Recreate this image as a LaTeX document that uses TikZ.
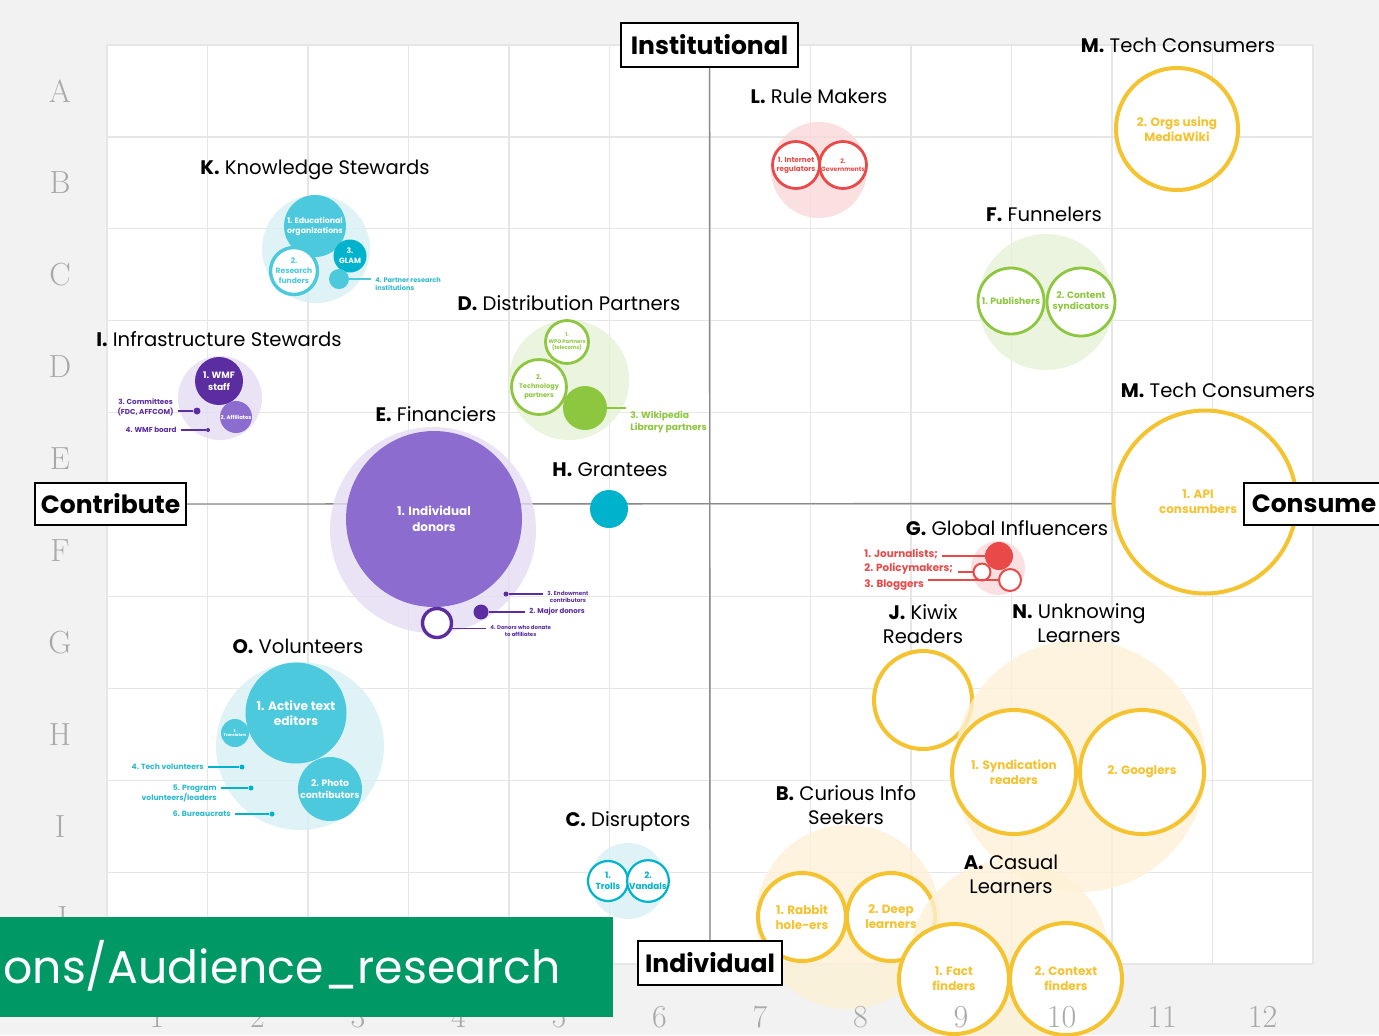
\documentclass[tikz,border=0pt]{standalone}
\usepackage{fontspec}
\newfontfamily\gfont{Poppins}

\definecolor{paper}{HTML}{F2F2F2}
\definecolor{gridgray}{HTML}{E6E6E6}
\definecolor{axisgray}{HTML}{8A8A8A}
\definecolor{rulergray}{HTML}{A9A9A9}
\definecolor{cyanmd}{HTML}{4CC9DD}
\definecolor{cyandk}{HTML}{00B3CD}
\definecolor{cyantxt}{HTML}{2DB8CE}
\definecolor{cyanlt}{HTML}{D8F1F6}
\definecolor{purpledk}{HTML}{5B2DA0}
\definecolor{purplemd}{HTML}{8C6DCF}
\definecolor{purplelt}{HTML}{E4DCF3}
\definecolor{leafgreen}{HTML}{8DC63F}
\definecolor{greenlt}{HTML}{E5F2D6}
\definecolor{rulered}{HTML}{E94949}
\definecolor{pinklt}{HTML}{F9D9D9}
\definecolor{sungold}{HTML}{F5C230}
\definecolor{goldlt}{HTML}{FDF1D6}
\definecolor{bannergreen}{HTML}{009966}

\pgfdeclarelayer{back}
\pgfsetlayers{back,main}

\begin{document}
\begin{tikzpicture}[x=0.5pt, y=-0.5pt,
    rad/.style={minimum size=#1pt},
    tx/.style 2 args={font=\gfont\bfseries\fontsize{#1}{#2}\selectfont},
    halo/.style={circle, fill=#1, fill opacity=0.8, inner sep=0pt},
    fillbub/.style={circle, fill=#1, text=white, inner sep=0pt, align=center},
    ringbub/.style={circle, draw=#1, fill=white, text=#1, line width=1.4pt, inner sep=0pt, align=center},
    blip/.style={circle, fill=#1, inner sep=0pt},
    note/.style={text=#1, inner sep=0pt},
    leader/.style={draw=#1, line width=0.6pt, shorten >=2pt}]
    \tikzstyle{ttl}=[font=\gfont\fontsize{9.8}{12}\selectfont, inner sep=0pt, align=center]
    \tikzstyle{axisbox}=[draw=black, line width=1pt, fill=white, inner sep=0pt, font=\gfont\bfseries\fontsize{12.5}{15}\selectfont]
    \tikzstyle{gridline}=[gridgray, line width=0.6pt]
    \tikzstyle{axisline}=[axisgray, line width=0.7pt]
    \tikzstyle{ruler}=[rulergray, inner sep=0pt, font=\fontsize{16}{16}\selectfont]

    \useasboundingbox (0,0) rectangle (1379,1035);

    % K. Knowledge Stewards
    \node[halo=cyanlt, rad=54] (Kh) at (316,249) {};
    \node[fillbub=cyanmd, rad=31, tx={3.9}{5}] (K1) at (315,226) {1. Educational\\organizations};
    \node[ringbub=cyanmd, rad=23.5, line width=1.7pt, tx={3.8}{5}] (K2) at (294,271) {2.\\Research\\funders};
    \node[fillbub=cyandk, rad=16.5, tx={3.8}{5}] (K3) at (350,256) {3.\\GLAM};
    \node[blip=cyanmd, rad=10] (K4) at (339,279) {};
    \node[note=cyantxt, anchor=west, align=left, tx={3.3}{4}] (K4t) at (375,284) {4. Partner research\\institutions};
    \draw[leader=cyanmd] (K4.east) -- (K4.east -| K4t.west);

    % I. Infrastructure Stewards
    \node[halo=purplelt, rad=42] (Ih) at (220,398) {};
    \node[fillbub=purpledk, rad=24, tx={4.6}{6}] (I1) at (219,381) {1. WMF\\staff};
    \node[fillbub=purplemd, rad=16, tx={2.7}{3}] (I2) at (236,417) {2. Affiliates};
    \node[blip=purpledk, rad=3.5] (I3) at (197,411) {};
    \node[note=purpledk, anchor=east, align=center, tx={3.6}{5}] (I3t) at (174,407) {3. Committees\\(FDC, AFFCOM)};
    \node[blip=purpledk, rad=2] (I4) at (208,430) {};
    \node[note=purpledk, anchor=east, tx={3.6}{5}] (I4t) at (177,430) {4. WMF board};
    \draw[leader=purpledk] (I3.west) -- (I3.west -| I3t.east);
    \draw[leader=purpledk] (I4.west) -- (I4.west -| I4t.east);

    % D. Distribution Partners
    \node[halo=greenlt, rad=60] (Dh) at (569,380) {};
    \node[ringbub=leafgreen, rad=21.5, tx={2.6}{3.3}] (D1) at (567,342) {1.\\WPO Partners\\(telecoms)};
    \node[ringbub=leafgreen, rad=27.5, tx={3.3}{4.4}] (D2) at (539,387) {2.\\Technology\\partners};
    \node[blip=leafgreen, rad=22] (D3) at (585,408) {};
    \node[note=leafgreen, anchor=west, align=left, tx={4.6}{6}] (D3t) at (630,422) {3. Wikipedia\\Library partners};
    \draw[leader=leafgreen] (D3.east) -- (D3.east -| D3t.west);

    % E. Financiers
    \node[halo=purplelt, rad=103] (Eh) at (433,530) {};
    \node[fillbub=purplemd, rad=88, tx={6}{8}] (E1) at (434,519) {1. Individual\\donors};
    \node[blip=purpledk, rad=2.5] (E3) at (506,594) {};
    \node[note=purpledk, anchor=west, align=center, tx={2.8}{3.6}] (E3t) at (547,597) {3. Endowment\\contributors};
    \node[blip=purpledk, rad=7.5] (E2) at (481,612) {};
    \node[note=purpledk, anchor=west, tx={3.5}{4}] (E2t) at (529,612) {2. Major donors};
    \node[ringbub=purpledk, rad=14.5, line width=1.7pt] (E4) at (437,623) {};
    \node[note=purpledk, anchor=west, align=center, tx={2.7}{3.6}] (E4t) at (490,631) {4. Donors who donate\\to affiliates};
    \draw[leader=purpledk] (E3.east) -- (E3.east -| E3t.west);
    \draw[leader=purpledk] (E2.east) -- (E2.east -| E2t.west);
    \draw[leader=purpledk] (E4.-20) -- (E4.-20 -| E4t.west);

    % H. Grantees
    \node[fillbub=cyandk, rad=19] (H) at (609,509) {};

    % L. Rule Makers
    \node[halo=pinklt, rad=48] (Lh) at (819,170) {};
    \node[ringbub=rulered, rad=23.5, tx={3.6}{4.4}] (L1) at (796,165) {1. Internet\\regulators};
    \node[ringbub=rulered, rad=23.5, tx={3.1}{4}] (L2) at (843,165) {2.\\Governments};

    % M. Tech Consumers
    \node[ringbub=sungold, rad=61, line width=2pt, tx={6}{7.5}] (Ma) at (1177,129) {2. Orgs using\\MediaWiki};
    \node[ringbub=sungold, rad=91.5, line width=2pt, tx={6}{7.5}] (Mb) at (1205,502) {\hspace*{-7pt}1. API\\\hspace*{-7pt}consumbers};

    % F. Funnelers
    \node[halo=greenlt, rad=68] (Fh) at (1046,302) {};
    \node[ringbub=leafgreen, rad=33, tx={4.6}{5.6}] (F1) at (1011,301) {1. Publishers};
    \node[ringbub=leafgreen, rad=34, tx={4.6}{5.6}] (F2) at (1081,302) {2. Content\\syndicators};

    % G. Global Influencers
    \node[halo=pinklt, rad=27] (Gh) at (998,568) {};
    \node[blip=rulered, rad=14] (G1) at (999,556) {};
    \node[ringbub=rulered, rad=8.5, line width=1pt] (G2) at (982,572) {};
    \node[ringbub=rulered, rad=11, line width=1pt] (G3) at (1010,580) {};
    \node[note=rulered, anchor=west, tx={5.2}{6}] (G1t) at (864,554) {1. Journalists;};
    \node[note=rulered, anchor=west, tx={5.2}{6}] (G2t) at (864,569) {2. Policymakers;};
    \node[note=rulered, anchor=west, tx={5.2}{6}] (G3t) at (864,585) {3. Bloggers};
    \draw[leader=rulered] (G1.west) -- (G1.west -| G1t.east);
    \draw[leader=rulered] (G2.west) -- (G2.west -| G2t.east);
    \draw[leader=rulered] (G3.west) -- (G3.west -| G3t.east);

    % J. Kiwix Readers
    \node[ringbub=sungold, rad=49, line width=2pt] (J) at (923,700) {};

    % N. Unknowing Learners
    \node[halo=goldlt, rad=126] (Nh) at (1080,766) {};
    \node[ringbub=sungold, rad=62, line width=2pt, tx={6}{7.5}] (N1) at (1014,772) {1. Syndication\\readers};
    \node[ringbub=sungold, rad=62, line width=2pt, tx={6}{7.5}] (N2) at (1142,772) {2. Googlers};

    % B. Curious Info Seekers
    \node[halo=goldlt, rad=92] (Bh) at (848,917) {};
    \node[ringbub=sungold, rad=44, line width=2pt, tx={6}{7.5}] (B1) at (802,917) {1. Rabbit\\hole-ers};
    \node[ringbub=sungold, rad=44, line width=2pt, tx={6}{7.5}] (B2) at (891,917) {2. Deep\\learners};

    % A. Casual Learners
    \node[halo=goldlt, rad=100] (Ah) at (1010,960) {};
    \node[ringbub=sungold, rad=55, line width=2pt, tx={6}{7.5}] (A1) at (954,979) {1. Fact\\finders};
    \node[ringbub=sungold, rad=56, line width=2pt, tx={6}{7.5}] (A2) at (1066,979) {2. Context\\finders};

    % C. Disruptors
    \node[halo=cyanlt, rad=38] (Ch) at (628,881) {};
    \node[ringbub=cyandk, rad=20, line width=1.1pt, tx={4.4}{5.5}] (C1) at (608,881) {1.\\Trolls};
    \node[ringbub=cyandk, rad=20, line width=1.1pt, tx={4.4}{5.5}] (C2) at (648,881) {2.\\Vandals};

    % O. Volunteers
    \node[halo=cyanlt, rad=84] (Oh) at (300,746) {};
    \node[fillbub=cyanmd, rad=50.5, tx={6.1}{7.6}] (O1) at (296,713) {1. Active text\\editors};
    \node[fillbub=cyanmd, rad=32, tx={4.6}{5.6}] (O2) at (330,789) {2. Photo\\contributors};
    \node[fillbub=cyanmd, rad=14, tx={1.9}{2.4}] (O3) at (235,733) {3.\\Translators};
    \node[blip=cyandk, rad=2.5] (O4) at (242,767) {};
    \node[blip=cyandk, rad=2.5] (O5) at (251,788) {};
    \node[blip=cyandk, rad=2.5] (O6) at (272,814) {};
    \node[note=cyantxt, anchor=east, tx={3.8}{5}] (O4t) at (204,767) {4. Tech volunteers};
    \node[note=cyantxt, anchor=east, align=right, tx={3.8}{5}] (O5t) at (217,793) {5. Program\\volunteers/leaders};
    \node[note=cyantxt, anchor=east, tx={3.8}{5}] (O6t) at (231,814) {6. Bureaucrats};
    \draw[leader=cyandk] (O4.west) -- (O4.west -| O4t.east);
    \draw[leader=cyandk] (O5.west) -- (O5.west -| O5t.east);
    \draw[leader=cyandk] (O6.west) -- (O6.west -| O6t.east);

    % group titles
    \node[ttl] (tMa) at (1178,45) {\textbf{M.} Tech Consumers};
    \node[ttl] (tL) at (819,96) {\textbf{L.} Rule Makers};
    \node[ttl] (tK) at (315,170) {\textbf{K.} Knowledge Stewards};
    \node[ttl] (tF) at (1044,214) {\textbf{F.} Funnelers};
    \node[ttl] (tD) at (569,303) {\textbf{D.} Distribution Partners};
    \node[ttl] (tI) at (219,339) {\textbf{I.} Infrastructure Stewards};
    \node[ttl] (tMb) at (1218,390) {\textbf{M.} Tech Consumers};
    \node[ttl] (tE) at (436,414) {\textbf{E.} Financiers};
    \node[ttl] (tH) at (610,470) {\textbf{H.} Grantees};
    \node[ttl] (tG) at (1007,528) {\textbf{G.} Global Influencers};
    \node[ttl] (tJ) at (923,624) {\textbf{J.} Kiwix\\Readers};
    \node[ttl] (tN) at (1079,623) {\textbf{N.} Unknowing\\Learners};
    \node[ttl] (tO) at (298,646) {\textbf{O.} Volunteers};
    \node[ttl] (tB) at (846,805) {\textbf{B.} Curious Info\\Seekers};
    \node[ttl] (tC) at (628,822) {\textbf{C.} Disruptors};
    \node[ttl] (tA) at (1011,874) {\textbf{A.} Casual\\Learners};

    % axis boxes
    \node[axisbox, minimum width=88.5pt, minimum height=22pt] (inst) at (709.5,45) {Institutional};
    \node[axisbox, minimum width=75.5pt, minimum height=21pt] (contrib) at (110.5,504) {Contribute};
    \node[axisbox, minimum width=70pt, minimum height=21pt] (consume) at (1314,503.5) {Consume};
    \node[axisbox, minimum width=72pt, minimum height=22pt] (indiv) at (710,963) {Individual};

    % row letters and column numbers
    \foreach \l [count=\k from 0] in {A,...,J}
      \node[ruler] (row\l) at (60,{91+91.9*\k}) {\l};
    \foreach \n in {1,...,12}
      \node[ruler] (col\n) at ({157+100.5*(\n-1)},1017) {\n};

    \fill[bannergreen] (0,917) rectangle (613,1017);
    \node[anchor=base west, inner sep=0pt, text=white, font=\gfont\fontsize{22.9}{26}\selectfont] (url) at (3,983) {ons/Audience\_research};

    % paper, grid and axes underneath
    \begin{pgfonlayer}{back}
      \fill[paper] (0,0) rectangle (1379,1035);
      \fill[white] (107,45) rectangle (1313,964);
      \foreach \i in {0,...,12}
        \draw[gridline] ({107+100.5*\i},45) -- ({107+100.5*\i},964);
      \foreach \j in {0,...,10}
        \draw[gridline] (107,{45+91.9*\j}) -- (1313,{45+91.9*\j});
      \draw[axisline] (inst.south) -- (indiv.north);
      \draw[axisline] (contrib.east) -- (consume.west);
    \end{pgfonlayer}
\end{tikzpicture}
\end{document}
